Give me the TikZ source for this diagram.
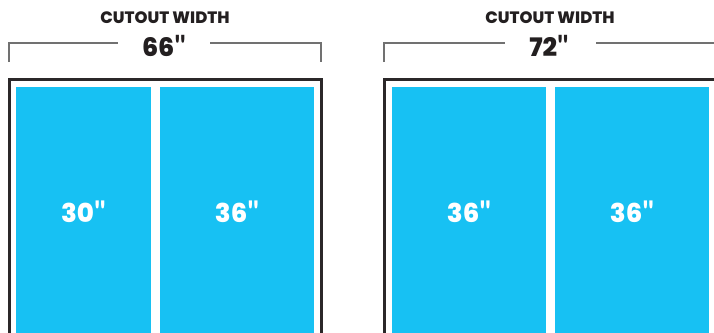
\documentclass[tikz,border=0pt]{standalone}
\usepackage{fontspec}
\setmainfont{Poppins}[BoldFont={Poppins ExtraBold}]
\newfontfamily\quotefont{Lato}
\definecolor{panelblue}{HTML}{17C1F3}
\definecolor{framedark}{HTML}{2B2829}
\definecolor{brackgray}{HTML}{717171}
\definecolor{textdark}{HTML}{231F20}
\newcommand{\inch}{\scalebox{1.15}{\quotefont\bfseries\symbol{34}}}
\begin{document}
\begin{tikzpicture}[x=1pt,y=-1pt,
  panel/.style={fill=panelblue,draw=none,inner sep=0pt,minimum height=250pt,text=white,font=\fontsize{26}{26}\selectfont\bfseries},
  frameline/.style={draw=framedark,line width=3pt},
  bracket/.style={draw=brackgray,line width=2.4pt},
  title/.style={text=textdark,font=\fontsize{16.5}{16.5}\selectfont\bfseries,inner sep=0pt},
  dim/.style={text=textdark,font=\fontsize{25.5}{25.5}\selectfont\bfseries,inner sep=0pt}]
\useasboundingbox (0,0) rectangle (714,332);
\clip (0,0) rectangle (714,332);
% left unit
\node[title] (t1) at (165,17.5) {CUTOUT WIDTH};
\node[dim] (d1) at (164,46) {66\inch};
\coordinate (b1a) at (9,62);
\coordinate (b1b) at (9,43);
\coordinate (b1c) at (118,43);
\coordinate (b1d) at (210,43);
\coordinate (b1e) at (321,43);
\coordinate (b1f) at (321,62);
\draw[bracket] (b1a) -- (b1b) -- (b1c);
\draw[bracket] (b1d) -- (b1e) -- (b1f);
\draw[frameline] (9.5,345) -- (9.5,79.5) -- (321.5,79.5) -- (321.5,345);
\node[panel,minimum width=135pt] (p1) at (83.5,212) {30\inch};
\node[panel,minimum width=154pt] (p2) at (237,212) {36\inch};
% right unit
\node[title] (t2) at (550,17.5) {CUTOUT WIDTH};
\node[dim] (d2) at (549,46) {72\inch};
\coordinate (b2a) at (384,62);
\coordinate (b2b) at (384,43);
\coordinate (b2c) at (505,43);
\coordinate (b2d) at (596,43);
\coordinate (b2e) at (720,43);
\draw[bracket] (b2a) -- (b2b) -- (b2c);
\draw[bracket] (b2d) -- (b2e);
\draw[frameline] (384.5,345) -- (384.5,79.5) -- (727,79.5) -- (727,345);
\node[panel,minimum width=154pt] (p3) at (469,212) {36\inch};
\node[panel,minimum width=154pt] (p4) at (632,212) {36\inch};
\end{tikzpicture}
\end{document}
